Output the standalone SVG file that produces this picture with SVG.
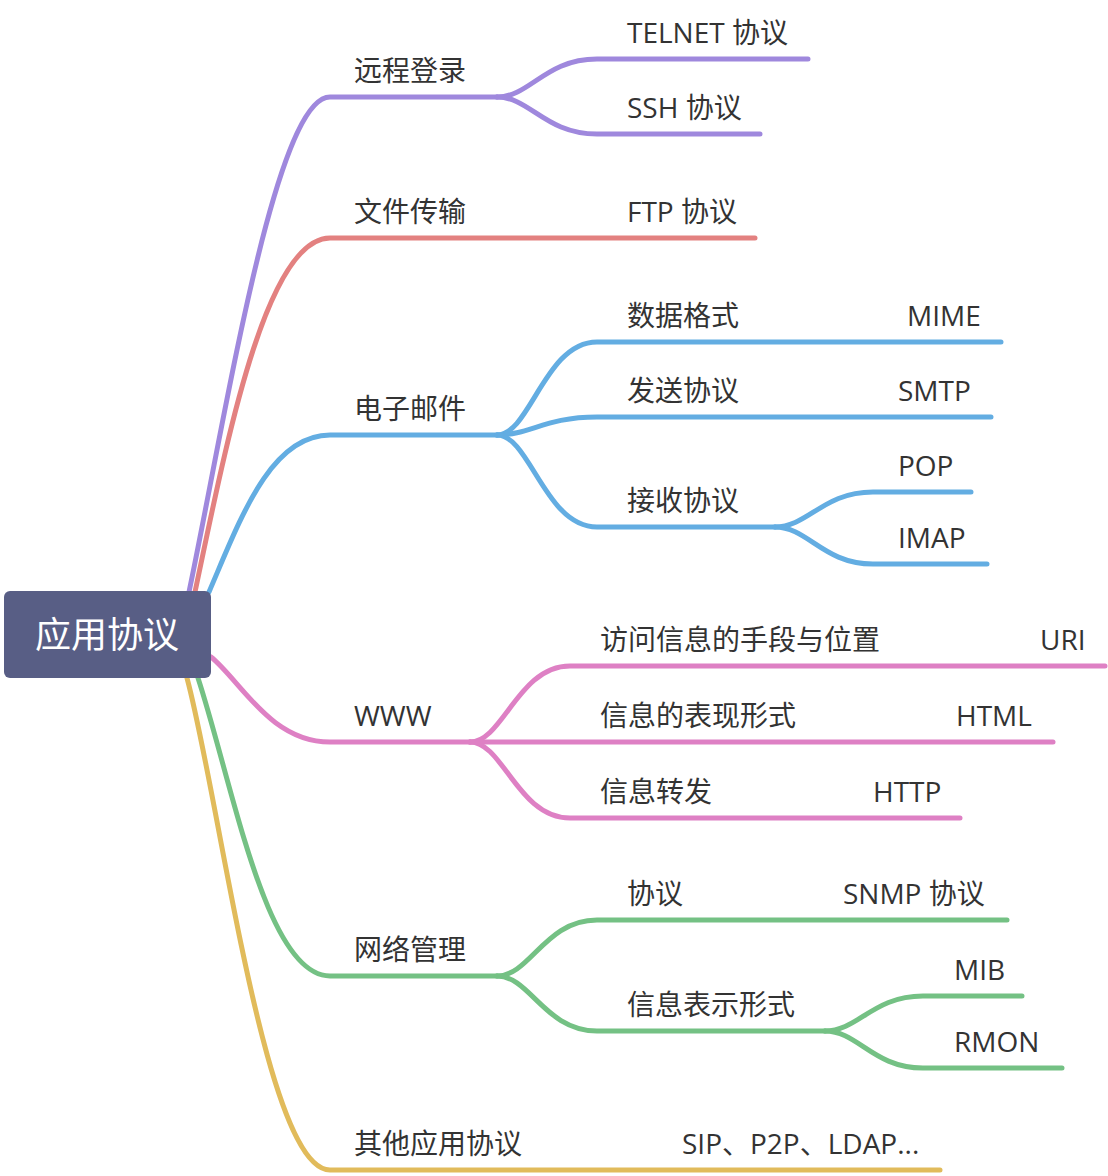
<svg xmlns="http://www.w3.org/2000/svg" width="1108" height="1176" viewBox="0 0 1108 1176">
<style>
.e{fill:none;stroke-width:5;stroke-linecap:round;stroke-linejoin:round}
.p{stroke:#9f88dd}.r{stroke:#e38180}.b{stroke:#63ade2}.k{stroke:#de80c4}.g{stroke:#74c184}.y{stroke:#e1bb5b}
text{font-family:"Open Sans","Noto Sans CJK SC",sans-serif;font-size:28px;fill:#333}
.root{font-size:36px;fill:#fff;text-anchor:middle}
</style>
<rect width="1108" height="1176" fill="#fff"/>
<g id="connectors">
<path class="e p" d="M189,592 C225,420 275,97 330,97 L497,97"/>
<path class="e p" d="M497,97 C530,97 545,59 597,59 L808,59"/>
<path class="e p" d="M497,97 C530,97 545,134 597,134 L760,134"/>
<path class="e r" d="M195,592 C225,450 265,238 330,238 L755,238"/>
<path class="e b" d="M209,592 C240,520 270,435 330,435 L497,435"/>
<path class="e b" d="M497,435 C530,435 545,342 597,342 L1001,342"/>
<path class="e b" d="M497,435 C530,435 545,417 597,417 L991,417"/>
<path class="e b" d="M497,435 C530,435 545,527 597,527 L775,527"/>
<path class="e b" d="M775,527 C808,527 823,492 873,492 L971,492"/>
<path class="e b" d="M775,527 C808,527 823,564 873,564 L987,564"/>
<path class="e k" d="M211,657 C240,680 270,742 330,742 L470,742"/>
<path class="e k" d="M470,742 C503,742 518,666 570,666 L1105,666"/>
<path class="e k" d="M470,742 L1053,742"/>
<path class="e k" d="M470,742 C503,742 518,818 570,818 L960,818"/>
<path class="e g" d="M198,678 C233,785 266,976 330,976 L497,976"/>
<path class="e g" d="M497,976 C530,976 545,920 597,920 L1007,920"/>
<path class="e g" d="M497,976 C530,976 545,1031 597,1031 L825,1031"/>
<path class="e g" d="M825,1031 C858,1031 873,996 923,996 L1022,996"/>
<path class="e g" d="M825,1031 C858,1031 873,1068 923,1068 L1062,1068"/>
<path class="e y" d="M187,678 C220,800 265,1170 330,1170 L940,1170"/>
</g>
<g id="root">
<rect x="4" y="591" width="207" height="87" rx="6" fill="#585e85"/>
<text class="root" x="107" y="648">应用协议</text>
</g>
<g id="n-remote"><text x="354" y="81">远程登录</text></g>
<g id="n-telnet"><text x="627" y="43">TELNET 协议</text></g>
<g id="n-ssh"><text x="627" y="118">SSH 协议</text></g>
<g id="n-file"><text x="354" y="222">文件传输</text></g>
<g id="n-ftp"><text x="627" y="222">FTP 协议</text></g>
<g id="n-mail"><text x="354" y="419">电子邮件</text></g>
<g id="n-format"><text x="627" y="326">数据格式</text></g>
<g id="n-mime"><text x="907" y="326">MIME</text></g>
<g id="n-send"><text x="627" y="401">发送协议</text></g>
<g id="n-smtp"><text x="898" y="401">SMTP</text></g>
<g id="n-recv"><text x="627" y="511">接收协议</text></g>
<g id="n-pop"><text x="898" y="476">POP</text></g>
<g id="n-imap"><text x="898" y="548">IMAP</text></g>
<g id="n-www"><text x="354" y="726">WWW</text></g>
<g id="n-access"><text x="600" y="650">访问信息的手段与位置</text></g>
<g id="n-uri"><text x="1040" y="650">URI</text></g>
<g id="n-present"><text x="600" y="726">信息的表现形式</text></g>
<g id="n-html"><text x="956" y="726">HTML</text></g>
<g id="n-transfer"><text x="600" y="802">信息转发</text></g>
<g id="n-http"><text x="873" y="802">HTTP</text></g>
<g id="n-netmgmt"><text x="354" y="960">网络管理</text></g>
<g id="n-proto"><text x="627" y="904">协议</text></g>
<g id="n-snmp"><text x="843" y="904">SNMP 协议</text></g>
<g id="n-info"><text x="627" y="1015">信息表示形式</text></g>
<g id="n-mib"><text x="954" y="980">MIB</text></g>
<g id="n-rmon"><text x="954" y="1052">RMON</text></g>
<g id="n-other"><text x="354" y="1154">其他应用协议</text></g>
<g id="n-sip"><text x="682" y="1154">SIP、P2P、LDAP...</text></g>
</svg>
